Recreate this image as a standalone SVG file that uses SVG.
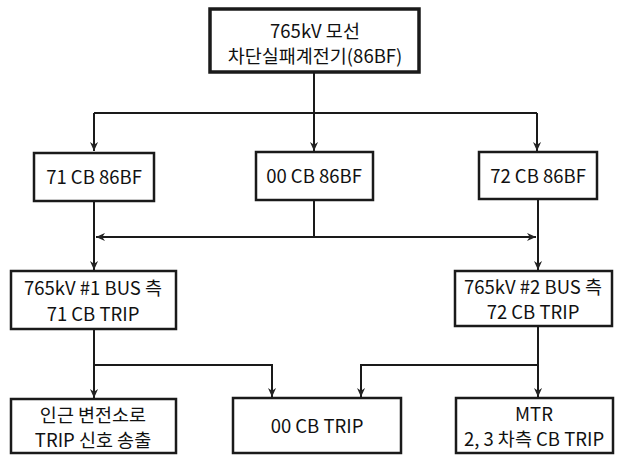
<svg xmlns="http://www.w3.org/2000/svg" width="622" height="457" viewBox="0 0 622 457">
<defs>
<marker id="arr" viewBox="0 0 10 10" refX="10" refY="5" markerWidth="9" markerHeight="9" markerUnits="userSpaceOnUse" orient="auto">
<path d="M0,0.5 L10,5 L0,9.5 L3,5 Z" fill="#222"/>
</marker>
</defs>
<style>
.box{fill:#fff;stroke:#1a1a1a;stroke-width:2.5}
.top{fill:#fff;stroke:#1a1a1a;stroke-width:3.5}
.t{font-family:"Noto Sans CJK KR","Noto Sans",sans-serif;font-size:18.5px;fill:#111;text-anchor:middle}
.c{fill:none;stroke:#1a1a1a;stroke-width:2}
.a{fill:none;stroke:#1a1a1a;stroke-width:2;marker-end:url(#arr)}
</style>
<rect width="622" height="457" fill="#fff"/>
<g id="connectors">
<path class="c" d="M314,73 V113"/>
<path class="c" d="M94,113 H537"/>
<path class="a" d="M94,113 V151"/>
<path class="a" d="M314,113 V151"/>
<path class="a" d="M537,113 V151"/>
<path class="c" d="M314,200 V237"/>
<path class="a" d="M314,237 H96"/>
<path class="a" d="M314,237 H536"/>
<path class="a" d="M94,201 V270"/>
<path class="a" d="M538,199 V270"/>
<path class="a" d="M94,329 V398"/>
<path class="a" d="M94,365 H272 V397"/>
<path class="a" d="M538,326 V397"/>
<path class="a" d="M538,365 H361 V397"/>
</g>
<g id="n-top"><rect class="top" x="210" y="9" width="209" height="63"/>
<text class="t" x="315" y="38">765kV 모선</text><text class="t" x="315" y="63">차단실패계전기(86BF)</text></g>
<g id="n-71"><rect class="box" x="34" y="153" width="120" height="48"/><text class="t" x="94" y="184">71 CB 86BF</text></g>
<g id="n-00"><rect class="box" x="256" y="152" width="117" height="48"/><text class="t" x="314" y="183">00 CB 86BF</text></g>
<g id="n-72"><rect class="box" x="479" y="152" width="118" height="47"/><text class="t" x="538" y="183">72 CB 86BF</text></g>
<g id="n-bus1"><rect class="box" x="11" y="271" width="165" height="58"/>
<text class="t" x="93" y="295">765kV #1 BUS 측</text><text class="t" x="93" y="321">71 CB TRIP</text></g>
<g id="n-bus2"><rect class="box" x="455" y="271" width="157" height="55"/>
<text class="t" x="533" y="294">765kV #2 BUS 측</text><text class="t" x="533" y="319">72 CB TRIP</text></g>
<g id="n-near"><rect class="box" x="11" y="399" width="165" height="54"/>
<text class="t" x="93" y="422">인근 변전소로</text><text class="t" x="93" y="447">TRIP 신호 송출</text></g>
<g id="n-00trip"><rect class="box" x="233" y="398" width="168" height="55"/><text class="t" x="317" y="433">00 CB TRIP</text></g>
<g id="n-mtr"><rect class="box" x="456" y="398" width="157" height="55"/>
<text class="t" x="534" y="421">MTR</text><text class="t" x="534" y="446">2, 3 차측 CB TRIP</text></g>
</svg>
